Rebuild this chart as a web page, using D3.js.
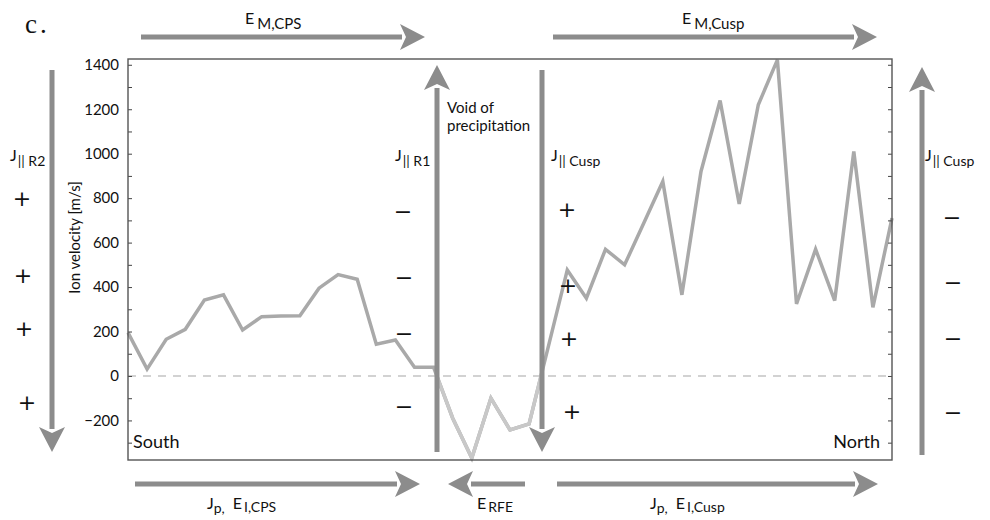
<!DOCTYPE html>
<html>
<head>
<meta charset="utf-8">
<script src="https://cdn.jsdelivr.net/npm/d3@7"></script>
<style>
  body { margin: 0; background: #fff; }
  svg { display: block; }
  text { font-family: Lato, "Open Sans", sans-serif; fill: #111; }
</style>
</head>
<body>
<svg id="chart" width="990" height="520"></svg>
<script>
// Ion velocity samples along the pass, south to north [m/s]
const velocity = [195, 31, 165, 210, 342, 365, 207, 267, 270, 271,
                  395, 456, 435, 143, 162, 39, 39, -190, -369, -100,
                  -243, -216, 130, 477, 350, 570, 500, 687, 875, 365,
                  920, 1239, 774, 1220, 1422, 324, 570, 339, 1010, 309, 710];
const sampleIndex = d3.range(velocity.length);

// Velocity axis ticks
const yMajorTicks = [-200, 0, 200, 400, 600, 800, 1000, 1200, 1400];
const yMinorTicks = d3.range(-300, 1401, 100);

// Field-aligned current sense markers along each current sheet
const r2Signs = ["+", "+", "+", "+"];
const r1Signs = ["−", "−", "−", "−"];
const cuspSigns = ["+", "+", "+", "+"];
const cuspNorthSigns = ["−", "−", "−", "−"];

const svg = d3.select("#chart");
const plot = { left: 128, right: 892, top: 59, bottom: 460 };

const x = d3.scaleLinear().domain([0, velocity.length - 1]).range([plot.left, plot.right]);
const y = d3.scaleLinear().domain([-378, 1426]).range([plot.bottom, plot.top]);

const ARROW = "#8c8c8c";
const LINE = "#a9a9a9";
const LINE_LIGHT = "#c8c8c8";

// Thick block arrow: shaft plus triangular head ending at (x2, y2)
function arrow(g, x1, y1, x2, y2) {
  const headLen = 25, halfW = 13, shaft = 5;
  const dx = x2 - x1, dy = y2 - y1, len = Math.hypot(dx, dy);
  const ux = dx / len, uy = dy / len;
  const bx = x2 - ux * headLen, by = y2 - uy * headLen;
  g.append("line")
    .attr("x1", x1).attr("y1", y1).attr("x2", bx + ux * 2).attr("y2", by + uy * 2)
    .attr("stroke", ARROW).attr("stroke-width", shaft);
  g.append("path")
    .attr("d", `M${x2},${y2}L${bx - uy * halfW},${by + ux * halfW}L${bx + ux * 6},${by + uy * 6}L${bx + uy * halfW},${by - ux * halfW}Z`)
    .attr("fill", ARROW);
}

// Text with a lowered subscript part
function subText(g, xPos, yPos, parts, anchor) {
  const t = g.append("text").attr("x", xPos).attr("y", yPos)
    .attr("text-anchor", anchor || "start");
  let shift = 0;
  parts.forEach(p => {
    const s = t.append("tspan").text(p.text).style("font-size", p.size + "px");
    const target = p.sub ? p.drop : 0;
    if (target !== shift) { s.attr("dy", target - shift); shift = target; }
    if (p.dx) s.attr("dx", p.dx);
  });
  return t;
}

// ---- plot frame and axes ----
const frame = svg.append("g");

// dashed zero reference
frame.append("line")
  .attr("x1", plot.left).attr("x2", plot.right)
  .attr("y1", y(0)).attr("y2", y(0))
  .attr("stroke", "#c4c4c4").attr("stroke-width", 1.5)
  .attr("stroke-dasharray", "8,7");

const yAxisLeft = d3.axisLeft(y)
  .tickValues(yMinorTicks)
  .tickSize(-4)
  .tickPadding(9)
  .tickFormat(d => yMajorTicks.includes(d) ? d3.format("")(d).replace("-", "−") : "");
const gl = frame.append("g").attr("transform", `translate(${plot.left},0)`).call(yAxisLeft);
gl.select(".domain").remove();
gl.selectAll(".tick line").attr("stroke", "#444").attr("stroke-width", 1);
gl.selectAll(".tick text").style("font-family", "Lato, sans-serif").style("font-size", "15px").attr("fill", "#111");

const yAxisRight = d3.axisRight(y).tickValues(yMinorTicks).tickSize(-4).tickFormat("");
const gr = frame.append("g").attr("transform", `translate(${plot.right},0)`).call(yAxisRight);
gr.select(".domain").remove();
gr.selectAll(".tick line").attr("stroke", "#444").attr("stroke-width", 1);

// velocity trace
const lineGen = d3.line().x(i => x(i)).y(i => y(velocity[i]));
svg.append("path")
  .attr("d", lineGen(sampleIndex))
  .attr("fill", "none").attr("stroke", LINE).attr("stroke-width", 3.5)
  .attr("stroke-linejoin", "miter");

// lighter trace inside the precipitation void
svg.append("clipPath").attr("id", "void")
  .append("rect").attr("x", 437).attr("y", plot.top).attr("width", 542 - 437).attr("height", plot.bottom - plot.top);
svg.append("path")
  .attr("d", lineGen(sampleIndex))
  .attr("clip-path", "url(#void)")
  .attr("fill", "none").attr("stroke", LINE_LIGHT).attr("stroke-width", 3.5);

// frame box
frame.append("rect")
  .attr("x", plot.left).attr("y", plot.top)
  .attr("width", plot.right - plot.left).attr("height", plot.bottom - plot.top)
  .attr("fill", "none").attr("stroke", "#555").attr("stroke-width", 1.4);
svg.node().appendChild(frame.node());

// axis title
svg.append("text")
  .attr("transform", `translate(80,${(y(1426) + y(-378)) / 2 - 22}) rotate(-90)`)
  .attr("text-anchor", "middle")
  .style("font-size", "15px")
  .text("Ion velocity [m/s]");

svg.append("text").attr("x", 133).attr("y", 448).style("font-size", "18px").text("South");
svg.append("text").attr("x", 880).attr("y", 448).attr("text-anchor", "end").style("font-size", "18px").text("North");

// panel letter
svg.append("text").attr("x", 25).attr("y", 33)
  .style("font-family", "'Liberation Serif', 'DejaVu Serif', serif")
  .style("font-size", "27px").style("letter-spacing", "3px").text("c.");

// ---- arrows ----
const ann = svg.append("g");
arrow(ann, 141, 37, 425, 37);     // E_M,CPS
arrow(ann, 553, 37, 877, 37);     // E_M,Cusp
arrow(ann, 135, 484, 420, 484);   // Jp, E_I,CPS
arrow(ann, 525, 484, 448, 484);   // E_RFE
arrow(ann, 557, 484, 878, 484);   // Jp, E_I,Cusp
arrow(ann, 52, 70, 52, 452);      // J|| R2 (down)
arrow(ann, 437, 452, 437, 65);    // R1 / void edge (up)
arrow(ann, 542, 70, 542, 452);    // J|| Cusp (down)
arrow(ann, 922, 455, 922, 67);    // J|| Cusp north (up)

// ---- labels ----
const lab = svg.append("g");
subText(lab, 245, 24, [{ text: "E", size: 16 }, { text: "M,CPS", size: 15, sub: true, drop: 5, dx: 3 }]);
subText(lab, 682, 24, [{ text: "E", size: 16 }, { text: "M,Cusp", size: 15, sub: true, drop: 5, dx: 3 }]);

subText(lab, 207, 509, [{ text: "J", size: 16 }, { text: "p,", size: 14, sub: true, drop: 4 },
  { text: "E", size: 16, dx: 8 }, { text: "I,CPS", size: 14, sub: true, drop: 3, dx: 2 }]);
subText(lab, 477, 509, [{ text: "E", size: 16 }, { text: "RFE", size: 14, sub: true, drop: 3, dx: 2 }]);
subText(lab, 650, 509, [{ text: "J", size: 16 }, { text: "p,", size: 14, sub: true, drop: 4 },
  { text: "E", size: 16, dx: 8 }, { text: "I,Cusp", size: 14, sub: true, drop: 3, dx: 2 }]);

subText(lab, 10, 161, [{ text: "J", size: 16 }, { text: "|| R2", size: 14, sub: true, drop: 5, dx: 1 }]);
subText(lab, 395, 161, [{ text: "J", size: 16 }, { text: "|| R1", size: 14, sub: true, drop: 5, dx: 1 }]);
subText(lab, 551, 161, [{ text: "J", size: 16 }, { text: "|| Cusp", size: 14, sub: true, drop: 5, dx: 1 }]);
subText(lab, 925, 161, [{ text: "J", size: 16 }, { text: "|| Cusp", size: 14, sub: true, drop: 5, dx: 1 }]);

lab.append("text").attr("x", 447).attr("y", 113).style("font-size", "15px").text("Void of");
lab.append("text").attr("x", 447).attr("y", 131).style("font-size", "15px").text("precipitation");

// current sense markers
function signs(list, xs, ys, color) {
  lab.selectAll(null).data(list).enter().append("text")
    .attr("x", (d, i) => xs[i]).attr("y", (d, i) => ys[i] + 8)
    .attr("text-anchor", "middle")
    .style("font-family", "'DejaVu Sans', sans-serif")
    .style("font-size", "22px")
    .attr("fill", color)
    .text(d => d);
}
signs(r2Signs, [22, 23, 24, 27], [198, 275, 328, 402], "#1a1a1a");
signs(r1Signs, [403, 404, 404, 404], [211, 277, 333, 406], "#777");
signs(cuspSigns, [567, 568, 569, 572], [209, 285, 338, 411], "#1a1a1a");
signs(cuspNorthSigns, [952, 953, 953, 953], [217, 282, 338, 412], "#777");
</script>
</body>
</html>
